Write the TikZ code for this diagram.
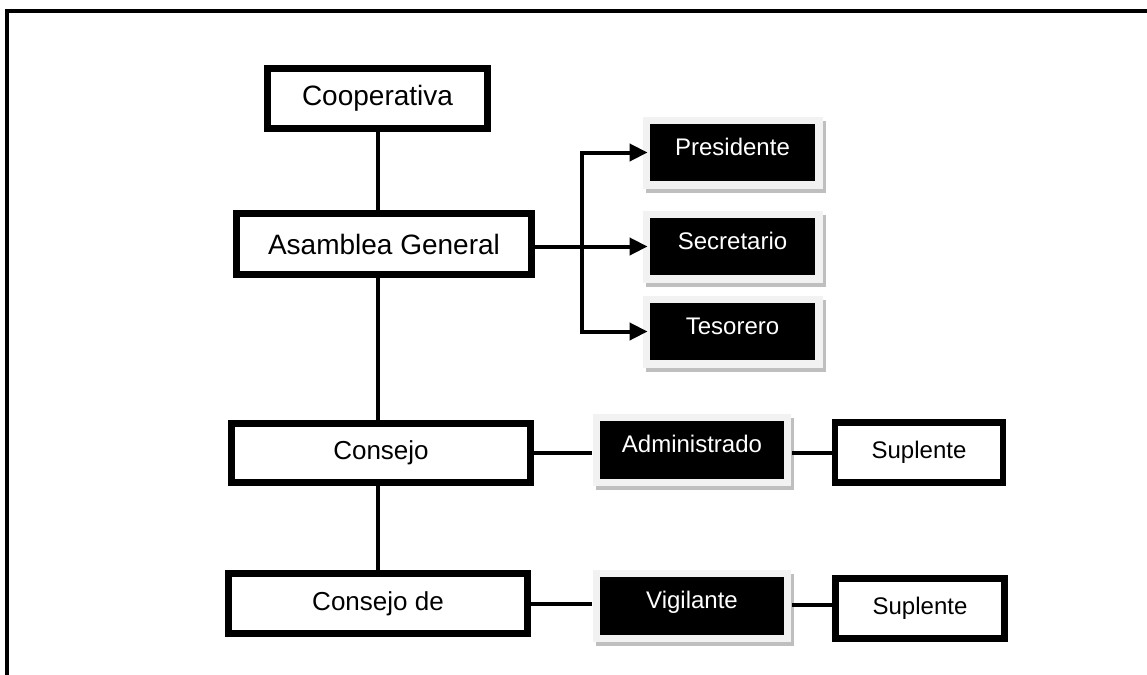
\documentclass[tikz,border=0pt]{standalone}
\usepackage{fontspec}
\setmainfont{Liberation Sans}
\usetikzlibrary{arrows.meta}

\tikzset{
    whitebox/.style={draw=black, line width=5pt, fill=white, inner sep=0pt},
    darkbox/.style={fill=black, text=white, inner sep=0pt, minimum height=43pt,
        text height=13pt, text depth=9pt, font=\fontsize{18}{20}\selectfont,
        % shadow first, then the light frame
        preaction={draw=black!25, fill=black!25, line width=11pt, transform canvas={shift={(3,4)}}},
        preaction={draw=black!5, line width=11pt}},
    conn/.style={line width=3pt},
    arr/.style={conn, -{Triangle[length=13.5pt,width=12.75pt]}, shorten >=1.5pt},
}

\begin{document}
\begin{tikzpicture}[x=0.75pt,y=-0.75pt]
    \useasboundingbox (0,0) rectangle (1147,675);
    % the frame round the chart
    \draw[line width=3pt] (7,690) -- (7,11) -- (1160,11);

    % main column
    \node[whitebox, minimum width=165pt, minimum height=45pt, font=\fontsize{21}{24}\selectfont] (coop) at (377.5,98.5) {Cooperativa};
    \node[whitebox, minimum width=221pt, minimum height=46pt, font=\fontsize{21}{24}\selectfont] (asam) at (384,244) {Asamblea General};
    \node[whitebox, minimum width=224pt, minimum height=44pt, font=\fontsize{19.5}{22}\selectfont] (consejo) at (381,453) {Consejo};
    \node[whitebox, minimum width=224pt, minimum height=45pt, font=\fontsize{19.5}{22}\selectfont] (consejode) at (378,603.5) {Consejo de};

    % officers
    \node[darkbox, minimum width=124pt] (pres) at (732.5,152.5) {Presidente};
    \node[darkbox, minimum width=124pt] (secr) at (732.5,246.5) {Secretario};
    \node[darkbox, minimum width=124pt] (teso) at (732.5,331.5) {Tesorero};

    \node[darkbox, minimum width=138pt] (admin) at (692,450) {Administrado};
    \node[darkbox, minimum width=138pt] (vigi) at (692,606) {Vigilante};

    \node[whitebox, minimum width=126pt, minimum height=45pt, font=\fontsize{18}{20}\selectfont] (sup1) at (919,452.5) {Suplente};
    \node[whitebox, minimum width=127pt, minimum height=45pt, font=\fontsize{18}{20}\selectfont] (sup2) at (920,608.5) {Suplente};

    % vertical line
    \draw[conn] (coop.south) -- (coop.south |- asam.north);
    \draw[conn] (asam.south -| coop.south) -- (consejo.north -| coop.south);
    \draw[conn] (consejo.south -| coop.south) -- (consejode.north -| coop.south);

    % branch to the officers
    \coordinate (fork) at (582,246.5);
    \draw[arr] (asam.east |- secr) -- (secr.west);
    \draw[arr] (fork) |- (pres.west);
    \draw[arr] (fork) |- (teso.west);

    % the two councils
    \draw[conn, shorten >=6pt] (consejo.east) -- (consejo.east -| admin.west);
    \draw[conn, shorten <=6pt] (sup1.west -| admin.east) -- (sup1.west);
    \draw[conn, shorten >=6pt] (consejode.east) -- (consejode.east -| vigi.west);
    \draw[conn, shorten <=6pt] (vigi.east |- 0,605) -- (sup2.west |- 0,605);
\end{tikzpicture}
\end{document}
